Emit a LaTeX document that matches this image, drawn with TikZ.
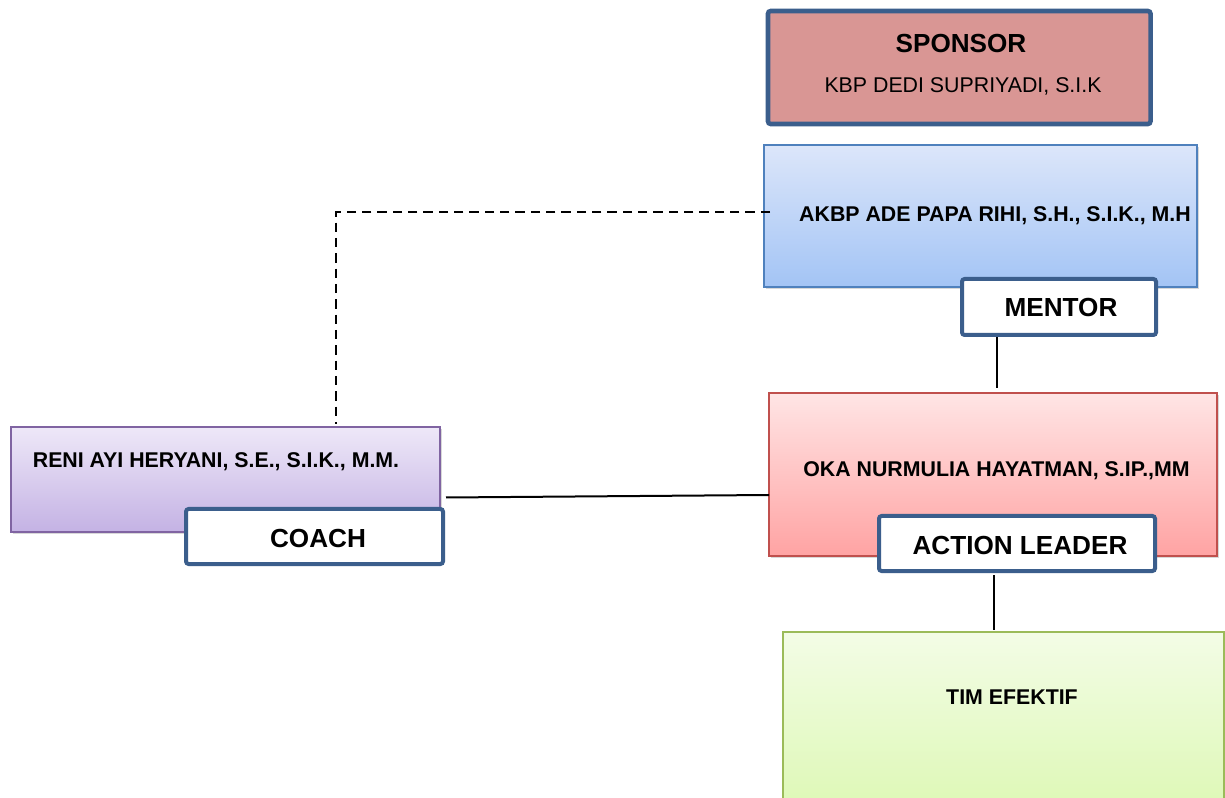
\documentclass[tikz,border=0pt]{standalone}
\usepackage{fontspec}
\setmainfont{Liberation Sans}
\usetikzlibrary{shadows,calc}
\definecolor{lblue}{HTML}{3B5E8C}
\definecolor{sponsorfill}{HTML}{D99694}
\definecolor{mentordraw}{HTML}{4F81BD}
\definecolor{mentortop}{HTML}{DCE6FA}
\definecolor{mentorbot}{HTML}{A3C4F5}
\definecolor{okadraw}{HTML}{C0504D}
\definecolor{okatop}{HTML}{FFE5E5}
\definecolor{okabot}{HTML}{FFA3A3}
\definecolor{renidraw}{HTML}{8064A2}
\definecolor{renitop}{HTML}{EEE8F8}
\definecolor{renibot}{HTML}{C4B2E4}
\definecolor{timdraw}{HTML}{9BBB59}
\definecolor{timtop}{HTML}{F3FCE6}
\definecolor{timbot}{HTML}{D6F7A5}
\tikzset{
  bigbox/.style={draw, line width=1pt, inner sep=0pt, outer sep=0pt,
    drop shadow={opacity=0.3, shadow xshift=1.5pt, shadow yshift=-1.5pt}},
  labelbox/.style={draw=lblue, line width=3pt, fill=white, rounded corners=2pt, inner sep=0pt, outer sep=0pt},
  bigtxt/.style={font=\fontsize{19.6}{23}\selectfont\bfseries, anchor=base, inner sep=0pt},
  smalltxt/.style={font=\fontsize{16}{19}\selectfont, anchor=base, inner sep=0pt},
  smallbold/.style={font=\fontsize{16}{19}\selectfont\bfseries, anchor=base, inner sep=0pt},
  conn/.style={line width=1.5pt, black},
  dashconn/.style={line width=1.9pt, black, dash pattern=on 7pt off 4.5pt}
}
\begin{document}
\begin{tikzpicture}[x=0.75pt, y=-0.75pt]
\clip (0,0) rectangle (1225,798);
\fill[white] (0,0) rectangle (1225,798);

% main boxes
\node[draw=lblue, line width=3.4pt, fill=sponsorfill, rounded corners=2pt, inner sep=0pt,
      minimum width=286.9pt, minimum height=84.75pt] (sponsor) at (959.25,67.5) {};
\node[bigbox, draw=mentordraw, top color=mentortop, bottom color=mentorbot,
      minimum width=324.75pt, minimum height=106.5pt] (mentor) at (980.5,216) {};
\node[bigbox, draw=okadraw, top color=okatop, bottom color=okabot,
      minimum width=336pt, minimum height=122.25pt] (oka) at (993,474.5) {};
\node[bigbox, draw=renidraw, top color=renitop, bottom color=renibot,
      minimum width=321.75pt, minimum height=78.75pt] (reni) at (225.5,479.5) {};
\node[bigbox, draw=timdraw, top color=timtop, bottom color=timbot,
      minimum width=330.75pt, minimum height=178.5pt] (tim) at (1003.5,751) {};

% label boxes
\node[labelbox, minimum width=145.5pt, minimum height=42pt] (mentorlbl) at (1059,307) {};
\node[labelbox, minimum width=207pt, minimum height=41.25pt] (actionlbl) at (1017,543.5) {};
\node[labelbox, minimum width=192.75pt, minimum height=41.25pt] (coachlbl) at (314.5,536.5) {};

% texts
\node[bigtxt] (tsponsor) at (961,53) {SPONSOR};
\node[smalltxt] (tkbp) at (963,93) {KBP DEDI SUPRIYADI, S.I.K};
\node[smallbold] (takbp) at (995,222) {AKBP ADE PAPA RIHI, S.H., S.I.K., M.H};
\node[bigtxt] (tmentor) at (1061,317) {MENTOR};
\node[smallbold] (treni) at (216,467.5) {RENI AYI HERYANI, S.E., S.I.K., M.M.};
\node[bigtxt] (tcoach) at (318,547) {COACH};
\node[smallbold] (toka) at (996.5,476.5) {OKA NURMULIA HAYATMAN, S.IP.,MM};
\node[bigtxt] (taction) at (1020,554) {ACTION LEADER};
\node[smallbold] (ttim) at (1012,704.5) {TIM EFEKTIF};

% connectors
\draw[dashconn] ($(mentor.west)+(6,-4)$) -| ($(reni.north west)+(325,-3)$);
\draw[conn] ($(mentorlbl.south)+(-62,2)$) -- ($(oka.north)+(4,-5)$);
\draw[conn] ($(actionlbl.south)+(-23,4)$) -- ($(tim.north)+(-9.5,-2)$);
\draw[conn] ($(reni.east)+(6,18)$) -- ($(oka.west)+(0,20.5)$);
\end{tikzpicture}
\end{document}
